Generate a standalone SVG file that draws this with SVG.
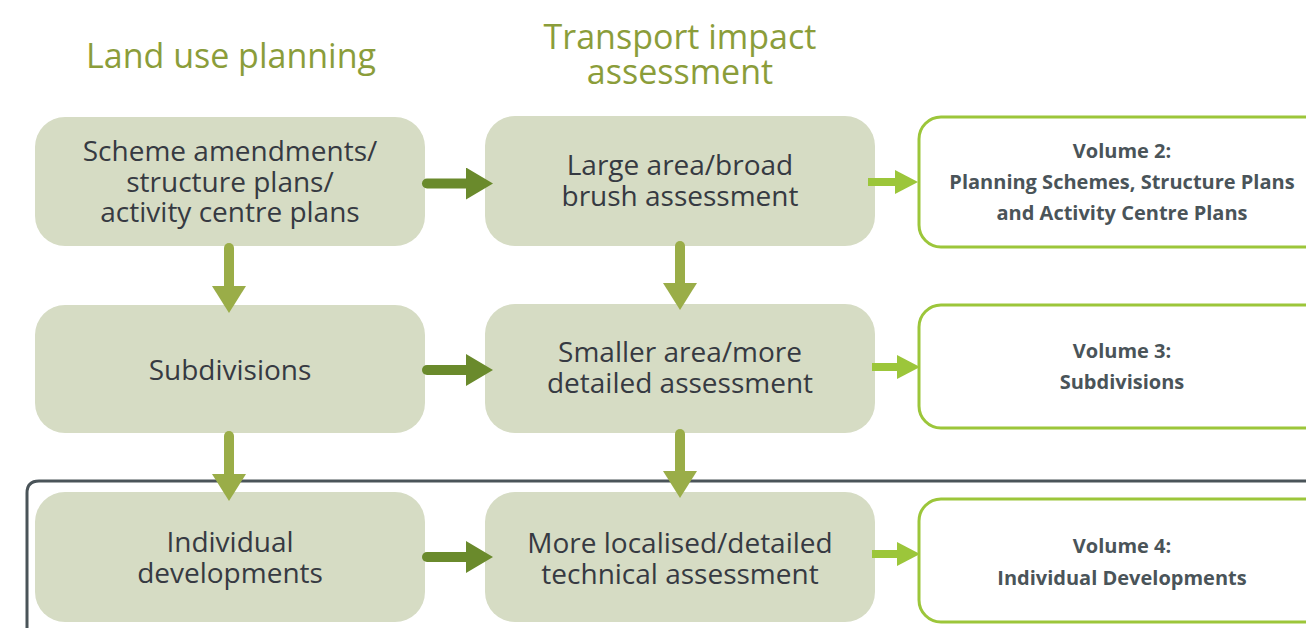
<svg xmlns="http://www.w3.org/2000/svg" width="1306" height="628" viewBox="0 0 1306 628">
  <style>
    .title { font-family: "Open Sans", "Liberation Sans", sans-serif; font-size: 34px; fill: #8b9d3a; text-anchor: middle; }
    .stage rect { fill: #d6dcc4; }
    .stage text { font-family: "Open Sans", "Liberation Sans", sans-serif; font-size: 28px; font-weight: 500; fill: #363a42; text-anchor: middle; }
    .vol rect { fill: #ffffff; stroke: #9cc63a; stroke-width: 3; }
    .vol text { font-family: "Open Sans", "Liberation Sans", sans-serif; font-size: 20px; font-weight: bold; fill: #4a5459; text-anchor: middle; }
    .flow-h { stroke: #6a8a2c; stroke-width: 10; stroke-linecap: round; fill: none; marker-end: url(#headDark); }
    .flow-v { stroke: #9aad48; stroke-width: 10; stroke-linecap: round; fill: none; marker-end: url(#headOlive); }
    .flow-r { stroke: #9cc63a; stroke-width: 8; fill: none; marker-end: url(#headLight); }
  </style>
  <defs>
    <marker id="headDark" markerUnits="userSpaceOnUse" markerWidth="28" markerHeight="32" refX="1" refY="16" orient="auto">
      <path d="M0,0 L27,16 L0,32 z" fill="#6a8a2c"/>
    </marker>
    <marker id="headOlive" markerUnits="userSpaceOnUse" markerWidth="28" markerHeight="34" refX="1" refY="17" orient="auto">
      <path d="M0,0 L27,17 L0,34 z" fill="#9aad48"/>
    </marker>
    <marker id="headLight" markerUnits="userSpaceOnUse" markerWidth="24" markerHeight="24" refX="1" refY="12" orient="auto">
      <path d="M0,0 L23,12 L0,24 z" fill="#9cc63a"/>
    </marker>
  </defs>

  <!-- column headings -->
  <g id="heading-land">
    <text class="title" x="231" y="68">Land use planning</text>
  </g>
  <g id="heading-transport">
    <text class="title" x="680" y="49">Transport impact</text>
    <text class="title" x="680" y="84">assessment</text>
  </g>

  <!-- frame around the individual developments row -->
  <path id="frame" d="M1310,481 L39,481 Q27,481 27,493 L27,632" fill="none" stroke="#4a5459" stroke-width="3"/>

  <!-- land use planning column -->
  <g id="scheme" class="stage">
    <rect x="35" y="117" width="390" height="129" rx="30"/>
    <text x="230" y="161">Scheme amendments/</text>
    <text x="230" y="192">structure plans/</text>
    <text x="230" y="222">activity centre plans</text>
  </g>
  <g id="subdivisions" class="stage">
    <rect x="35" y="305" width="390" height="128" rx="30"/>
    <text x="230" y="380">Subdivisions</text>
  </g>
  <g id="individual" class="stage">
    <rect x="35" y="492" width="390" height="130" rx="30"/>
    <text x="230" y="552">Individual</text>
    <text x="230" y="583">developments</text>
  </g>

  <!-- transport impact assessment column -->
  <g id="broad" class="stage">
    <rect x="485" y="116" width="390" height="130" rx="30"/>
    <text x="680" y="175">Large area/broad</text>
    <text x="680" y="206">brush assessment</text>
  </g>
  <g id="detailed" class="stage">
    <rect x="485" y="304" width="390" height="129" rx="30"/>
    <text x="680" y="362">Smaller area/more</text>
    <text x="680" y="393">detailed assessment</text>
  </g>
  <g id="technical" class="stage">
    <rect x="485" y="492" width="390" height="130" rx="30"/>
    <text x="680" y="553">More localised/detailed</text>
    <text x="680" y="584">technical assessment</text>
  </g>

  <!-- guidance volumes -->
  <g id="volume2" class="vol">
    <rect x="919" y="117" width="420" height="130" rx="22"/>
    <text x="1122" y="158">Volume 2:</text>
    <text x="1122" y="189">Planning Schemes, Structure Plans</text>
    <text x="1122" y="220">and Activity Centre Plans</text>
  </g>
  <g id="volume3" class="vol">
    <rect x="919" y="305" width="420" height="123" rx="22"/>
    <text x="1122" y="358">Volume 3:</text>
    <text x="1122" y="389">Subdivisions</text>
  </g>
  <g id="volume4" class="vol">
    <rect x="919" y="499" width="420" height="123" rx="22"/>
    <text x="1122" y="553">Volume 4:</text>
    <text x="1122" y="585">Individual Developments</text>
  </g>

  <!-- connectors -->
  <g id="connectors">
    <line class="flow-h" x1="427" y1="183.5" x2="467" y2="183.5"/>
    <line class="flow-h" x1="427" y1="370" x2="467" y2="370"/>
    <line class="flow-h" x1="427" y1="557" x2="467" y2="557"/>

    <line class="flow-v" x1="229" y1="248" x2="229" y2="287"/>
    <line class="flow-v" x1="680" y1="246" x2="680" y2="284"/>
    <line class="flow-v" x1="229" y1="436" x2="229" y2="475"/>
    <line class="flow-v" x1="680" y1="434" x2="680" y2="472"/>

    <line class="flow-r" x1="868" y1="182" x2="896" y2="182"/>
    <line class="flow-r" x1="872" y1="367" x2="898" y2="367"/>
    <line class="flow-r" x1="872" y1="554" x2="898" y2="554"/>
  </g>
</svg>
